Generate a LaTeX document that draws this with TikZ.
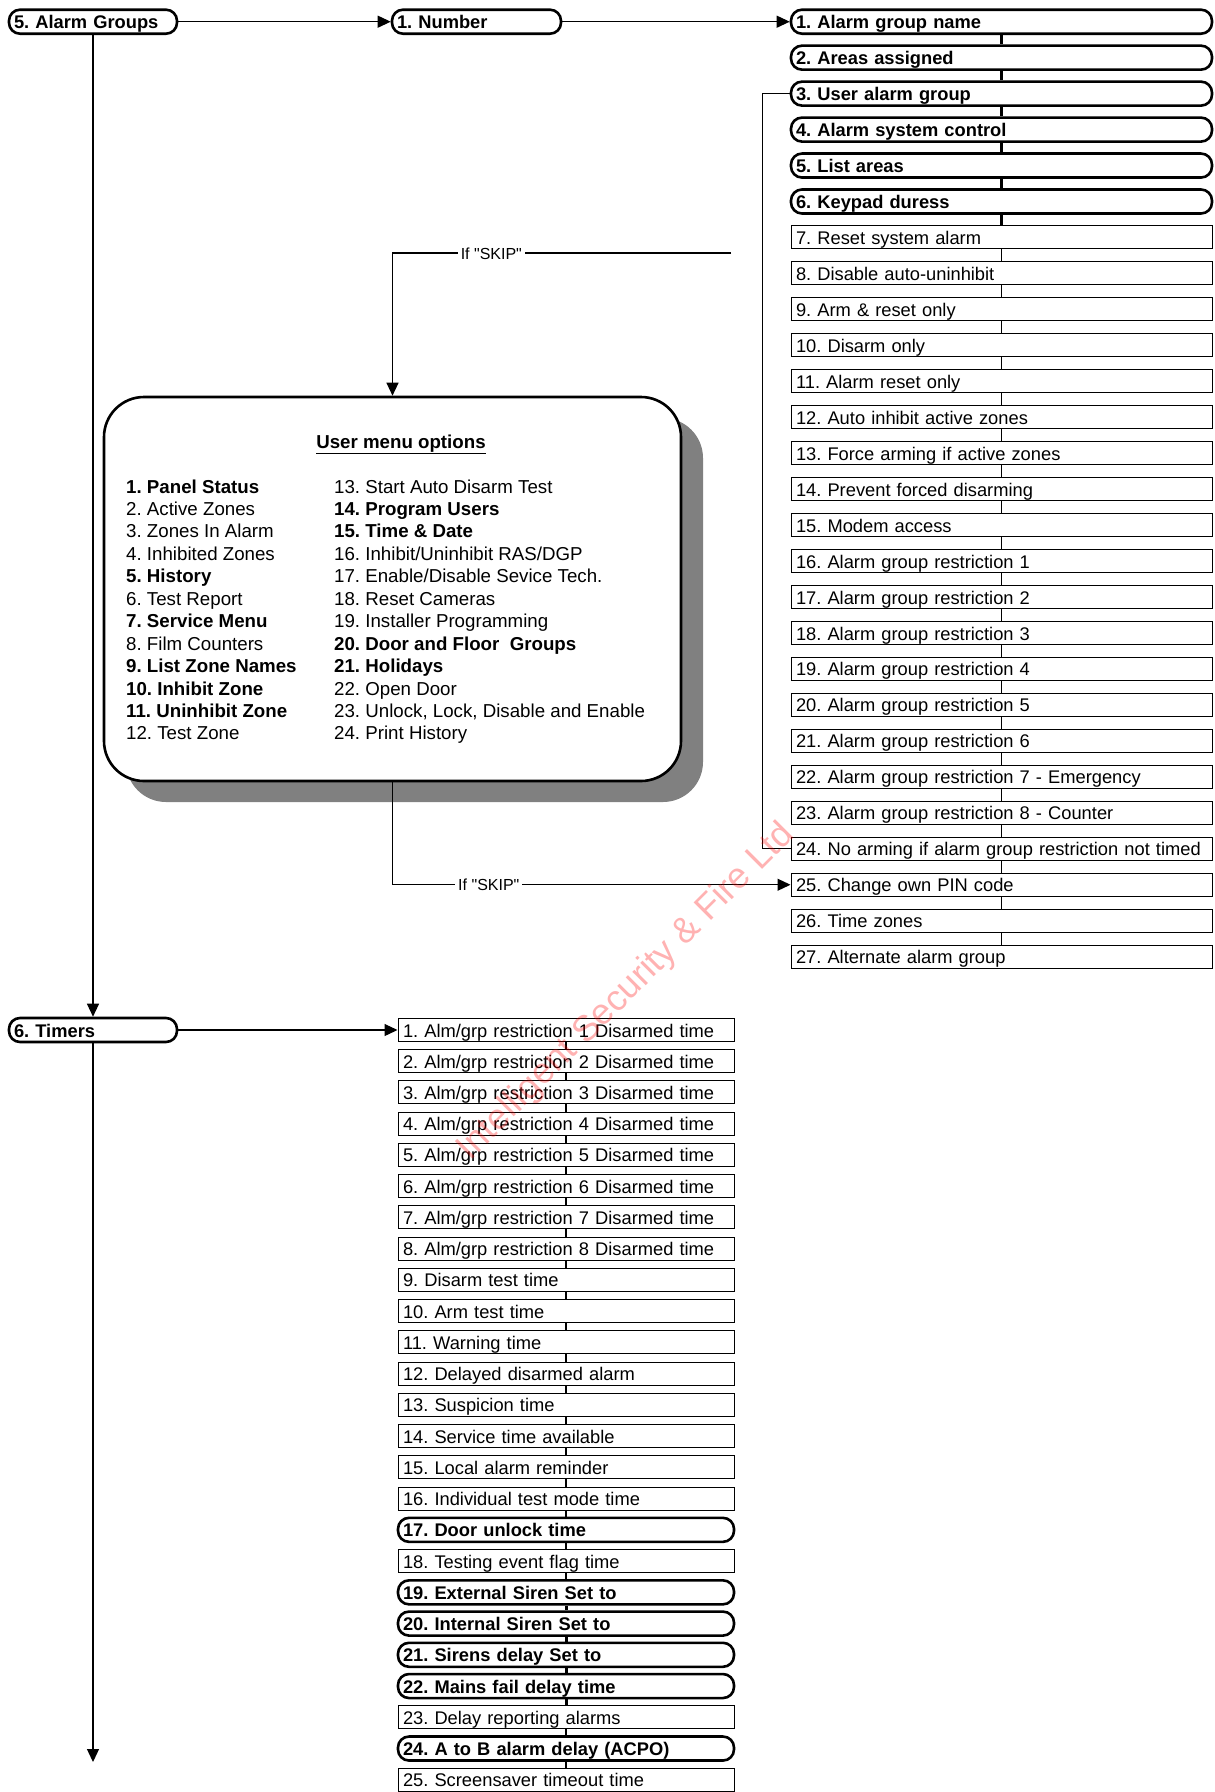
\documentclass[tikz,border=0pt]{standalone}
\usepackage{fontspec}
\setmainfont{Liberation Sans}
\newfontfamily\qfont{Liberation Sans}
\usetikzlibrary{arrows.meta,shadows}
\begin{document}
\frenchspacing
\begin{tikzpicture}[x=1pt,y=-1pt,
  every node/.style={font=\fontsize{18.7}{22}\selectfont, text height=16.5pt, text depth=2.5pt},
  rbox/.style={draw, line width=2.6pt, rounded corners=11pt, minimum height=24pt,
    inner xsep=5pt, inner ysep=0pt, align=left, font=\fontsize{18.3}{22}\selectfont\bfseries},
  sbox/.style={draw, line width=1pt, minimum height=23pt, inner xsep=5pt, inner ysep=0pt, align=left,
    font=\fontsize{18.3}{22}\selectfont},
  conn/.style={line width=1.2pt},
  bconn/.style={line width=3pt},
  arr/.style={-{Triangle[length=13pt,width=12pt]}},
  lbl/.style={fill=white, inner xsep=3pt, inner ysep=1pt, font=\qfont\fontsize{16}{18}\selectfont, text height=13.5pt, text depth=1.5pt},
  mtext/.style={anchor=west, inner sep=0pt},
  mbold/.style={anchor=west, inner sep=0pt, font=\fontsize{18.7}{22}\selectfont\bfseries}
]
\useasboundingbox (0,0) rectangle (1215,1792);

% left main nodes
\node[rbox, text width=158pt] (ag) at (93,21.7) {5. Alarm Groups};
\node[rbox, text width=159pt] (num) at (476.5,21.7) {1. Number};
\node[rbox, text width=158pt] (tm) at (93,1030) {6. Timers};

% right column
\foreach \i/\s/\t in {
 1/rbox/{1. Alarm group name},
 2/rbox/{2. Areas assigned},
 3/rbox/{3. User alarm group},
 4/rbox/{4. Alarm system control},
 5/rbox/{5. List areas},
 6/rbox/{6. Keypad duress},
 7/sbox/{7. Reset system alarm},
 8/sbox/{8. Disable auto-uninhibit},
 9/sbox/{9. Arm \& reset only},
 10/sbox/{10. Disarm only},
 11/sbox/{11. Alarm reset only},
 12/sbox/{12. Auto inhibit active zones},
 13/sbox/{13. Force arming if active zones},
 14/sbox/{14. Prevent forced disarming},
 15/sbox/{15. Modem access},
 16/sbox/{16. Alarm group restriction 1},
 17/sbox/{17. Alarm group restriction 2},
 18/sbox/{18. Alarm group restriction 3},
 19/sbox/{19. Alarm group restriction 4},
 20/sbox/{20. Alarm group restriction 5},
 21/sbox/{21. Alarm group restriction 6},
 22/sbox/{22. Alarm group restriction 7 - Emergency},
 23/sbox/{23. Alarm group restriction 8 - Counter},
 24/sbox/{24. No arming if alarm group restriction not timed},
 25/sbox/{25. Change own PIN code},
 26/sbox/{26. Time zones},
 27/sbox/{27. Alternate alarm group}}{
  \pgfmathsetmacro\yy{21.7+35.96*(\i-1)}
  \node[\s, text width=411pt] (r\i) at (1001.5,\yy) {\mbox{\t}};
}

% timers column
\foreach \i/\s/\t in {
 1/sbox/{1. Alm/grp restriction 1 Disarmed time},
 2/sbox/{2. Alm/grp restriction 2 Disarmed time},
 3/sbox/{3. Alm/grp restriction 3 Disarmed time},
 4/sbox/{4. Alm/grp restriction 4 Disarmed time},
 5/sbox/{5. Alm/grp restriction 5 Disarmed time},
 6/sbox/{6. Alm/grp restriction 6 Disarmed time},
 7/sbox/{7. Alm/grp restriction 7 Disarmed time},
 8/sbox/{8. Alm/grp restriction 8 Disarmed time},
 9/sbox/{9. Disarm test time},
 10/sbox/{10. Arm test time},
 11/sbox/{11. Warning time},
 12/sbox/{12. Delayed disarmed alarm},
 13/sbox/{13. Suspicion time},
 14/sbox/{14. Service time available},
 15/sbox/{15. Local alarm reminder},
 16/sbox/{16. Individual test mode time},
 17/rbox/{17. Door unlock time},
 18/sbox/{18. Testing event flag time},
 19/rbox/{19. External Siren Set to},
 20/rbox/{20. Internal Siren Set to},
 21/rbox/{21. Sirens delay Set to},
 22/rbox/{22. Mains fail delay time},
 23/sbox/{23. Delay reporting alarms},
 24/rbox/{24. A to B alarm delay (ACPO)},
 25/sbox/{25. Screensaver timeout time}}{
  \pgfmathsetmacro\yy{1030+31.24*(\i-1)}
  \node[\s, text width=326pt] (t\i) at (566,\yy) {\mbox{\t}};
}

% connectors within columns
\foreach \i [evaluate=\i as \j using int(\i+1)] in {1,...,6}
  \draw[bconn] (r\i) -- (r\j);
\foreach \i [evaluate=\i as \j using int(\i+1)] in {7,...,26}
  \draw[conn] (r\i) -- (r\j);
\foreach \i [evaluate=\i as \j using int(\i+1)] in {1,...,18,23,24}
  \draw[conn] (t\i) -- (t\j);
\foreach \i [evaluate=\i as \j using int(\i+1)] in {19,...,22}
  \draw[bconn] (t\i) -- (t\j);

% user menu box
\node[draw, line width=2.6pt, rounded corners=40pt, minimum width=577pt, minimum height=384pt,
  fill=white, drop shadow={opacity=1, fill=black!50, shadow xshift=22pt, shadow yshift=-21pt}]
  (um) at (392.5,589) {};
\node[font=\fontsize{18.7}{22}\selectfont\bfseries, inner sep=0pt] (umt) at (401,441) {\underline{User menu options}};

\foreach \i/\s/\t in {
 1/mbold/{1. Panel Status},
 2/mtext/{2. Active Zones},
 3/mtext/{3. Zones In Alarm},
 4/mtext/{4. Inhibited Zones},
 5/mbold/{5. History},
 6/mtext/{6. Test Report},
 7/mbold/{7. Service Menu},
 8/mtext/{8. Film Counters},
 9/mbold/{9. List Zone Names},
 10/mbold/{10. Inhibit Zone},
 11/mbold/{11. Uninhibit Zone},
 12/mtext/{12. Test Zone}}{
  \pgfmathsetmacro\yy{486+22.45*(\i-1)}
  \node[\s] (m\i) at (126,\yy) {\t};
}
\foreach \i/\s/\t in {
 13/mtext/{13. Start Auto Disarm Test},
 14/mbold/{14. Program Users},
 15/mbold/{15. Time \& Date},
 16/mtext/{16. Inhibit/Uninhibit RAS/DGP},
 17/mtext/{17. Enable/Disable Sevice Tech.},
 18/mtext/{18. Reset Cameras},
 19/mtext/{19. Installer Programming},
 20/mbold/{20. Door and Floor~ Groups},
 21/mbold/{21. Holidays},
 22/mtext/{22. Open Door},
 23/mtext/{23. Unlock, Lock, Disable and Enable},
 24/mtext/{24. Print History}}{
  \pgfmathsetmacro\yy{486+22.45*(\i-13)}
  \node[\s] (m\i) at (334,\yy) {\t};
}

% main connectors
\draw[conn, arr] (ag) -- (num);
\draw[conn, arr] (num) -- (r1);
\draw[conn, arr] (ag) -- (tm);
\draw[conn, arr] (tm) -- (t1);
\coordinate (tend) at (93,1762);
\draw[conn, arr] (tm) -- (tend);

% skip connectors
\coordinate (sk) at (731,253);
\draw[conn, arr] (sk) -| node[lbl, pos=0.354] (skl1) {If "SKIP"} (um);
\draw[conn, arr] (um) |- node[lbl, pos=0.621] (skl2) {If "SKIP"} (r25);
\draw[conn] (r3.west) -- ++(-27,0) |- (r24.west);

% watermark
\node[rotate=45, text=red, opacity=0.3, font=\fontsize{36}{40}\selectfont, text height=26pt, text depth=7pt] (wm) at (626,992) {Intelligent Security \& Fire Ltd};
\end{tikzpicture}
\end{document}
